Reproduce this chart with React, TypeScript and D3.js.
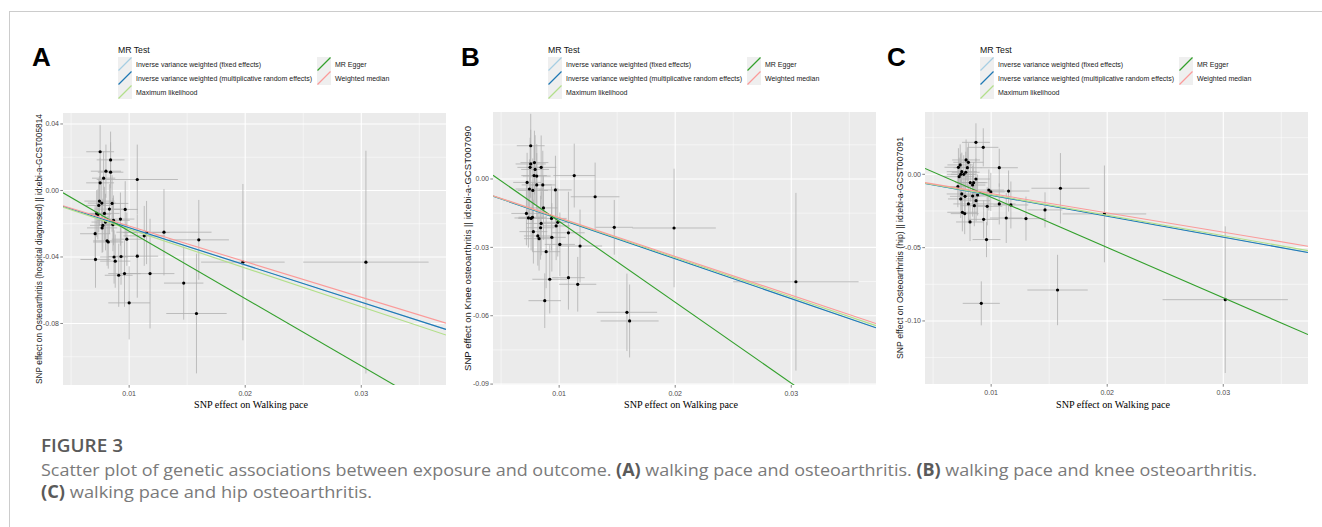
import React from "react";
import { scaleLinear } from "d3";

const width = 1322;
const height = 527;

const methods = [
  "Inverse variance weighted (fixed effects)",
  "Inverse variance weighted (multiplicative random effects)",
  "Maximum likelihood",
  "MR Egger",
  "Weighted median",
];
const methodColors = ["#a6cee3", "#1f78b4", "#b2df8a", "#33a02c", "#fb9a99"];

const xDomain = [0.0043, 0.0373];
const xTicks = [0.01, 0.02, 0.03];
const xTickLabels = ["0.01", "0.02", "0.03"];
const xMinor = [0.005, 0.015, 0.025, 0.035];
const xTitle = "SNP effect on Walking pace";

// panel A: walking pace -> osteoarthritis
const aX = [0.0075, 0.0084, 0.008, 0.0084, 0.0078, 0.0075, 0.0107, 0.00744, 0.00764, 0.00738, 0.00853, 0.0083, 0.00966, 0.0072, 0.0073, 0.00787, 0.00925, 0.00865, 0.00796, 0.00773, 0.00767, 0.0086, 0.00707, 0.0115, 0.0113, 0.013, 0.0098, 0.0081, 0.0082, 0.016, 0.0071, 0.0087, 0.0093, 0.0088, 0.0107, 0.0198, 0.0304, 0.0091, 0.0096, 0.0118, 0.0147, 0.01, 0.0158];
const aY = [0.0233, 0.0184, 0.0116, 0.011, 0.0074, 0.0046, 0.0066, -0.0064, -0.0076, -0.009, -0.0078, -0.0112, -0.0114, -0.0138, -0.0144, -0.0138, -0.0172, -0.018, -0.019, -0.021, -0.0225, -0.0205, -0.026, -0.0253, -0.0273, -0.0251, -0.0293, -0.0303, -0.031, -0.0297, -0.0415, -0.04, -0.0397, -0.0425, -0.0395, -0.0431, -0.0431, -0.051, -0.05, -0.05, -0.0557, -0.0676, -0.074];
const aSx = [0.0012, 0.0012, 0.0013, 0.0011, 0.001, 0.0012, 0.0035, 0.0013, 0.0012, 0.0011, 0.0014, 0.0013, 0.0011, 0.0012, 0.0011, 0.0013, 0.0012, 0.0014, 0.0012, 0.0011, 0.0013, 0.0012, 0.0013, 0.002, 0.0018, 0.0041, 0.0013, 0.0012, 0.0013, 0.0026, 0.0013, 0.0012, 0.0011, 0.0013, 0.0018, 0.0036, 0.0054, 0.0012, 0.0014, 0.0021, 0.0017, 0.0018, 0.0026];
const aSy = [0.016, 0.017, 0.016, 0.018, 0.016, 0.015, 0.021, 0.015, 0.014, 0.016, 0.017, 0.015, 0.017, 0.014, 0.015, 0.016, 0.016, 0.015, 0.017, 0.016, 0.015, 0.016, 0.017, 0.019, 0.018, 0.026, 0.016, 0.015, 0.016, 0.024, 0.017, 0.016, 0.017, 0.016, 0.025, 0.047, 0.067, 0.019, 0.02, 0.033, 0.022, 0.022, 0.036];
const aSlope = [-2.24, -2.24, -2.33, -4.05, -2.14];
const aIntercept = [0, 0, 0, 0.016, 0];
const aYDomain = [-0.117, 0.0466];
const aYTicks = [0.04, 0, -0.04, -0.08];
const aYTickLabels = ["0.04", "0.00", "-0.04", "-0.08"];
const aYMinor = [0.02, -0.02, -0.06, -0.1];
const aYTitle = "SNP effect on Osteoarthritis (hospital diagnosed) || id:ebi-a-GCST005814";

// panel B: walking pace -> knee osteoarthritis
const bX = [0.00755, 0.00755, 0.00787, 0.0075, 0.00793, 0.00845, 0.00784, 0.00807, 0.0113, 0.00724, 0.00807, 0.00859, 0.00744, 0.00773, 0.00968, 0.0131, 0.00865, 0.00718, 0.00735, 0.00758, 0.0077, 0.00934, 0.00988, 0.00845, 0.00974, 0.0084, 0.01475, 0.0199, 0.00778, 0.0108, 0.00816, 0.00827, 0.00937, 0.01006, 0.0118, 0.00888, 0.0108, 0.00919, 0.0116, 0.0304, 0.00876, 0.01584, 0.01607];
const bY = [0.0146, 0.0066, 0.0072, 0.0051, 0.0042, 0.0051, 0.0015, 0.0013, 0.0015, -0.0015, -0.0026, -0.0026, -0.0044, -0.005, -0.0048, -0.0078, -0.0127, -0.0151, -0.0171, -0.0173, -0.0168, -0.0173, -0.019, -0.0195, -0.0206, -0.0214, -0.0212, -0.0215, -0.0231, -0.0236, -0.025, -0.0262, -0.0256, -0.0287, -0.0294, -0.0319, -0.0433, -0.044, -0.0462, -0.0451, -0.0534, -0.0585, -0.0623];
const bSx = [0.0012, 0.0013, 0.0012, 0.0011, 0.0012, 0.0013, 0.0011, 0.0012, 0.0018, 0.0012, 0.0013, 0.0011, 0.0012, 0.0013, 0.0014, 0.0021, 0.0012, 0.0013, 0.0012, 0.0011, 0.0012, 0.0013, 0.0012, 0.0013, 0.0012, 0.0012, 0.0016, 0.0036, 0.0012, 0.0014, 0.0012, 0.0013, 0.0012, 0.0013, 0.0019, 0.0012, 0.0014, 0.0015, 0.0016, 0.0054, 0.0014, 0.0026, 0.0025];
const bSy = [0.014, 0.015, 0.014, 0.013, 0.015, 0.014, 0.013, 0.014, 0.014, 0.013, 0.014, 0.015, 0.013, 0.014, 0.015, 0.015, 0.014, 0.014, 0.013, 0.014, 0.015, 0.014, 0.015, 0.014, 0.015, 0.014, 0.012, 0.026, 0.014, 0.018, 0.013, 0.014, 0.015, 0.014, 0.016, 0.016, 0.014, 0.015, 0.012, 0.039, 0.012, 0.017, 0.016];
const bSlope = [-1.75, -1.75, -1.725, -3.55, -1.7];
const bIntercept = [0, 0, 0, 0.0169, 0];
const bYDomain = [-0.0904, 0.0294];
const bYTicks = [0, -0.03, -0.06, -0.09];
const bYTickLabels = ["0.00", "-0.03", "-0.06", "-0.09"];
const bYMinor = [0.015, -0.015, -0.045, -0.075];
const bYTitle = "SNP effect on Knee osteoarthritis || id:ebi-a-GCST007090";

// panel C: walking pace -> hip osteoarthritis
const cX = [0.00869, 0.00932, 0.00784, 0.00804, 0.00733, 0.00718, 0.0107, 0.00795, 0.00747, 0.00781, 0.00764, 0.00738, 0.00724, 0.00869, 0.0082, 0.00849, 0.0084, 0.00713, 0.0098, 0.00997, 0.0115, 0.01597, 0.00747, 0.00883, 0.00775, 0.0084, 0.00738, 0.0087, 0.00804, 0.00855, 0.00966, 0.0107, 0.0117, 0.01464, 0.01976, 0.00752, 0.00772, 0.00935, 0.0113, 0.013, 0.00818, 0.0096, 0.00915, 0.01572, 0.03017];
const cY = [0.0218, 0.0184, 0.0098, 0.0082, 0.0064, 0.0048, 0.0045, 0.0045, 0.0018, 0.0014, 0, 0, -0.0016, -0.0032, -0.0057, -0.0057, -0.0073, -0.0084, -0.0107, -0.012, -0.0114, -0.0095, -0.0134, -0.0141, -0.015, -0.0148, -0.0168, -0.018, -0.0202, -0.0214, -0.0218, -0.0202, -0.0209, -0.0243, -0.027, -0.0259, -0.0268, -0.0307, -0.0298, -0.0302, -0.0325, -0.0445, -0.088, -0.0789, -0.0855];
const cSx = [0.0012, 0.0013, 0.0012, 0.0013, 0.0011, 0.0012, 0.0016, 0.0012, 0.0013, 0.0012, 0.0011, 0.0012, 0.0013, 0.0012, 0.0013, 0.0012, 0.0011, 0.0012, 0.0013, 0.0012, 0.0018, 0.0025, 0.0013, 0.0012, 0.0013, 0.0012, 0.0011, 0.0012, 0.0013, 0.0012, 0.0013, 0.0014, 0.0015, 0.0015, 0.0036, 0.0013, 0.0012, 0.0013, 0.0014, 0.0017, 0.0012, 0.0012, 0.0016, 0.0026, 0.0054];
const cSy = [0.013, 0.013, 0.014, 0.013, 0.014, 0.013, 0.013, 0.014, 0.013, 0.014, 0.013, 0.014, 0.013, 0.014, 0.013, 0.014, 0.013, 0.014, 0.014, 0.013, 0.014, 0.024, 0.013, 0.014, 0.013, 0.014, 0.013, 0.014, 0.013, 0.014, 0.013, 0.014, 0.016, 0.012, 0.033, 0.013, 0.014, 0.013, 0.017, 0.015, 0.013, 0.012, 0.015, 0.024, 0.05];
const cSlope = [-1.43, -1.43, -1.395, -3.43, -1.315];
const cIntercept = [0, 0, 0, 0.0187, 0];
const cYDomain = [-0.143, 0.0425];
const cYTicks = [0, -0.05, -0.1];
const cYTickLabels = ["0.00", "-0.05", "-0.10"];
const cYMinor = [0.025, -0.025, -0.075, -0.125];
const cYTitle = "SNP effect on Osteoarthritis (hip) || id:ebi-a-GCST007091";

const sans = "'Liberation Sans', Arial, sans-serif";

const Panel = ({ id, letter, box, letterX, yTitleX, yTitleLen, xs, ys, sx, sy, slope, intercept, yDomain, yTicks, yTickLabels, yMinor, yTitle }) => {
  const [x0, x1, y0, y1] = box;
  const xScale = scaleLinear().domain(xDomain).range([x0, x1]);
  const yScale = scaleLinear().domain(yDomain).range([y1, y0]);
  const lx = x0 + 55;
  const col2 = x0 + 254;
  const rows = [57, 71, 85];
  const keyPos = [
    [lx, rows[0]], [lx, rows[1]], [lx, rows[2]], [col2, rows[0]], [col2, rows[1]],
  ];
  const yMid = (y0 + y1) / 2;
  return (
    <g>
      <defs>
        <clipPath id={`clip-${id}`}>
          <rect x={x0} y={y0} width={x1 - x0} height={y1 - y0} />
        </clipPath>
      </defs>
      <text x={letterX} y={66} fontFamily={sans} fontWeight="bold" fontSize={26}>{letter}</text>

      {/* legend */}
      <text x={lx} y={53} fontFamily={sans} fontSize={8.7} fill="#111">MR Test</text>
      {methods.map((m, i) => {
        const [kx, ky] = keyPos[i];
        return (
          <g key={m}>
            <rect x={kx} y={ky} width={14} height={14} fill="#efefef" />
            <line x1={kx + 0.5} y1={ky + 13.5} x2={kx + 13.5} y2={ky + 0.5} stroke={methodColors[i]} strokeWidth={1.3} />
            <text x={kx + 18} y={ky + 9.5} fontFamily={sans} fontSize={7} fill="#1a1a1a">{m}</text>
          </g>
        );
      })}

      {/* panel background and grid */}
      <rect x={x0} y={y0} width={x1 - x0} height={y1 - y0} fill="#ebebeb" />
      {xMinor.map(t => (
        <line key={`xm${t}`} x1={xScale(t)} x2={xScale(t)} y1={y0} y2={y1} stroke="#fff" strokeWidth={0.5} />
      ))}
      {yMinor.filter(t => t > yDomain[0] && t < yDomain[1]).map(t => (
        <line key={`ym${t}`} x1={x0} x2={x1} y1={yScale(t)} y2={yScale(t)} stroke="#fff" strokeWidth={0.5} />
      ))}
      {xTicks.map(t => (
        <line key={`xg${t}`} x1={xScale(t)} x2={xScale(t)} y1={y0} y2={y1} stroke="#fff" strokeWidth={1.1} />
      ))}
      {yTicks.map(t => (
        <line key={`yg${t}`} x1={x0} x2={x1} y1={yScale(t)} y2={yScale(t)} stroke="#fff" strokeWidth={1.1} />
      ))}

      <g clipPath={`url(#clip-${id})`}>
        {xs.map((x, i) => (
          <g key={i}>
            <line x1={xScale(x)} x2={xScale(x)} y1={yScale(ys[i] - sy[i])} y2={yScale(ys[i] + sy[i])} stroke="#b0b0b0" strokeWidth={0.8} />
            <line x1={xScale(x - sx[i])} x2={xScale(x + sx[i])} y1={yScale(ys[i])} y2={yScale(ys[i])} stroke="#b0b0b0" strokeWidth={0.8} />
          </g>
        ))}
        {xs.map((x, i) => (
          <circle key={`p${i}`} cx={xScale(x)} cy={yScale(ys[i])} r={1.6} fill="#000" />
        ))}
        {slope.map((b, i) => (
          <line key={`l${i}`}
            x1={xScale(xDomain[0])} y1={yScale(intercept[i] + b * xDomain[0])}
            x2={xScale(xDomain[1])} y2={yScale(intercept[i] + b * xDomain[1])}
            stroke={methodColors[i]} strokeWidth={1.1} />
        ))}
      </g>

      {/* axes */}
      {yTicks.map((t, i) => (
        <g key={`yt${t}`}>
          <line x1={x0 - 2.7} x2={x0} y1={yScale(t)} y2={yScale(t)} stroke="#333" strokeWidth={0.6} />
          <text x={x0 - 4} y={yScale(t) + 2.4} textAnchor="end" fontFamily={sans} fontSize={7} fill="#4d4d4d">{yTickLabels[i]}</text>
        </g>
      ))}
      {xTicks.map((t, i) => (
        <g key={`xt${t}`}>
          <line x1={xScale(t)} x2={xScale(t)} y1={y1} y2={y1 + 2.7} stroke="#333" strokeWidth={0.6} />
          <text x={xScale(t)} y={y1 + 10.5} textAnchor="middle" fontFamily={sans} fontSize={7} fill="#4d4d4d">{xTickLabels[i]}</text>
        </g>
      ))}
      <text x={(x0 + x1) / 2 - 3.5} y={408} textAnchor="middle" fontFamily="'Liberation Serif', 'Times New Roman', serif" fontSize={10} fill="#000" textLength={114} lengthAdjust="spacingAndGlyphs">{xTitle}</text>
      <text transform={`translate(${yTitleX},${yMid}) rotate(-90)`} textAnchor="middle" dy="0.35em" fontFamily={sans} fontSize={8.3} fill="#1a1a1a" textLength={yTitleLen} lengthAdjust="spacingAndGlyphs">{yTitle}</text>
    </g>
  );
};

const App = () => {
  return (
    <div style={{ position: "absolute", left: 0, top: 0 }}>
      <svg width={width} height={height} style={{ display: "block", background: "#fff" }}>
        <line x1={9} x2={width} y1={11.5} y2={11.5} stroke="#cccccc" strokeWidth={1} />
        <line x1={9.5} x2={9.5} y1={11} y2={height} stroke="#cccccc" strokeWidth={1} />

        <Panel id="a" letter="A" box={[63, 446, 113, 385]} letterX={32} yTitleX={39} yTitleLen={270}
          xs={aX} ys={aY} sx={aSx} sy={aSy} slope={aSlope} intercept={aIntercept}
          yDomain={aYDomain} yTicks={aYTicks} yTickLabels={aYTickLabels} yMinor={aYMinor} yTitle={aYTitle} />
        <Panel id="b" letter="B" box={[493, 876, 112, 385]} letterX={461} yTitleX={468} yTitleLen={245}
          xs={bX} ys={bY} sx={bSx} sy={bSy} slope={bSlope} intercept={bIntercept}
          yDomain={bYDomain} yTicks={bYTicks} yTickLabels={bYTickLabels} yMinor={bYMinor} yTitle={bYTitle} />
        <Panel id="c" letter="C" box={[925, 1308, 112, 384]} letterX={887} yTitleX={900} yTitleLen={222}
          xs={cX} ys={cY} sx={cSx} sy={cSy} slope={cSlope} intercept={cIntercept}
          yDomain={cYDomain} yTicks={cYTicks} yTickLabels={cYTickLabels} yMinor={cYMinor} yTitle={cYTitle} />

        {/* caption */}
        <text x={41} y={452} fontFamily="'Open Sans', sans-serif" fontWeight={600} fontSize={18} fill="#5a5a5a" textLength={82} lengthAdjust="spacingAndGlyphs">FIGURE 3</text>
        <text x={41} y={476} fontFamily="'Open Sans', sans-serif" fontSize={17} fill="#7a7a7a" textLength={1216} lengthAdjust="spacingAndGlyphs">
          Scatter plot of genetic associations between exposure and outcome. <tspan fontWeight="bold" fill="#5a5a5a">(A)</tspan> walking pace and osteoarthritis. <tspan fontWeight="bold" fill="#5a5a5a">(B)</tspan> walking pace and knee osteoarthritis.
        </text>
        <text x={41} y={498} fontFamily="'Open Sans', sans-serif" fontSize={17} fill="#7a7a7a" textLength={331} lengthAdjust="spacingAndGlyphs">
          <tspan fontWeight="bold" fill="#5a5a5a">(C)</tspan> walking pace and hip osteoarthritis.
        </text>
      </svg>
    </div>
  );
};

export default App;
